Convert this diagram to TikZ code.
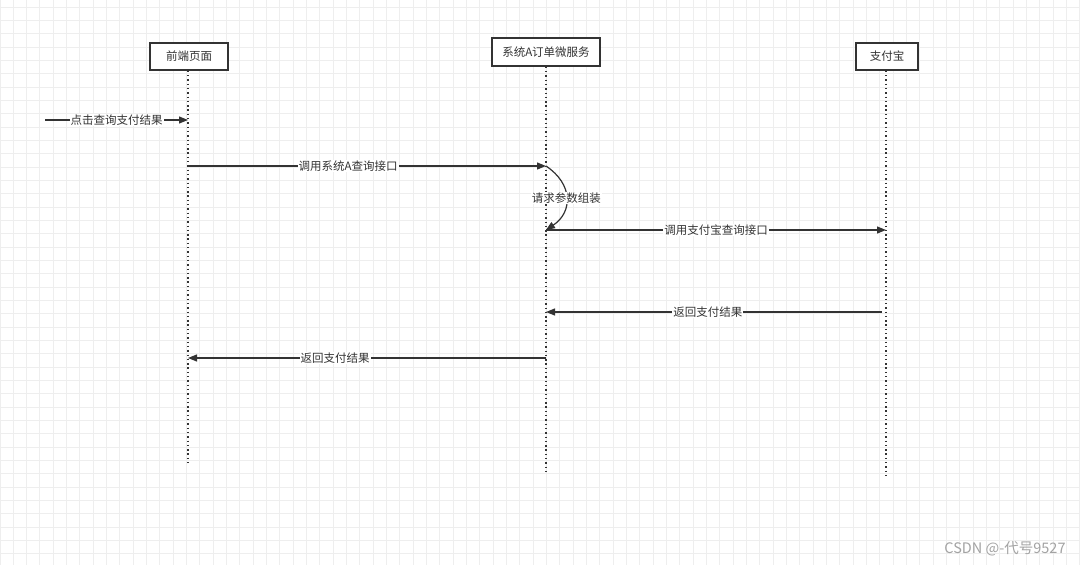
\documentclass[tikz,border=0pt]{standalone}
\usepackage{fontspec}
\setmainfont{Noto Sans CJK SC}
\usetikzlibrary{arrows.meta}
\definecolor{gridgray}{HTML}{EEEEEE}
\definecolor{ink}{HTML}{333333}

\begin{document}
\begin{tikzpicture}[x=1pt,y=-1pt,
    actor/.style={draw=ink,line width=1.5pt,fill=white,text=ink,minimum height=27pt,inner sep=0pt,font=\fontsize{11.5}{13}\selectfont},
    life/.style={ink,line width=1.6pt,dash pattern=on 1.4pt off 2.9pt},
    msg/.style={ink,line width=1.2pt,-{Triangle[length=9pt,width=7pt]}},
    lbl/.style={fill=white,text=ink,inner sep=1pt,font=\fontsize{11.5}{13}\selectfont}]
    \useasboundingbox[fill=white] (0,0) rectangle (1080,565);
    \foreach \i in {0,...,81} \draw[gridgray,line width=1pt] (13.33*\i,0) -- (13.33*\i,565);
    \foreach \j in {0,...,42} \draw[gridgray,line width=1pt] (0,7.3+13.33*\j) -- (1080,7.3+13.33*\j);
    % lifelines
    \node[actor,minimum width=78pt] (front) at (189,56.5) {前端页面};
    \node[actor,minimum width=108pt,minimum height=28pt] (sysa) at (546,52) {系统A订单微服务};
    \node[actor,minimum width=62pt] (alipay) at (887,56.5) {支付宝};
    \coordinate (frontend) at (188,465);
    \coordinate (sysaend) at (546,474);
    \coordinate (alipayend) at (886,478);
    \draw[life] (front.south -| frontend) -- (frontend);
    \draw[life] (sysa.south -| sysaend) -- (sysaend);
    \draw[life] (alipay.south -| alipayend) -- (alipayend);
    % messages
    \coordinate (start) at (45,120);
    \coordinate (f1) at (188,120);
    \coordinate (f2) at (188,166);
    \coordinate (a2) at (546,166);
    \coordinate (a3) at (546,230);
    \coordinate (z3) at (886,230);
    \coordinate (z4) at (882,312);
    \coordinate (a4) at (546,312);
    \coordinate (a5) at (546,358);
    \coordinate (f5) at (188,358);
    \draw[msg] (start) -- (f1) node[lbl,midway] (query) {点击查询支付结果};
    \draw[msg] (f2) -- (a2) node[lbl,pos=0.447] (callsysa) {调用系统A查询接口};
    \draw[msg] (a2) .. controls (573,184) and (573,212) .. (a3) node[lbl,midway] (build) {请求参数组装};
    \draw[msg] (a3) -- (z3) node[lbl,midway] (callpay) {调用支付宝查询接口};
    \draw[msg] (z4) -- (a4) node[lbl,pos=0.518] (backsysa) {返回支付结果};
    \draw[msg] (a5) -- (f5) node[lbl,pos=0.589] (backfront) {返回支付结果};
    \node[text=black!36,font=\fontsize{14.5}{16}\selectfont] (mark) at (1005,549) {CSDN @-代号9527};
\end{tikzpicture}
\end{document}
